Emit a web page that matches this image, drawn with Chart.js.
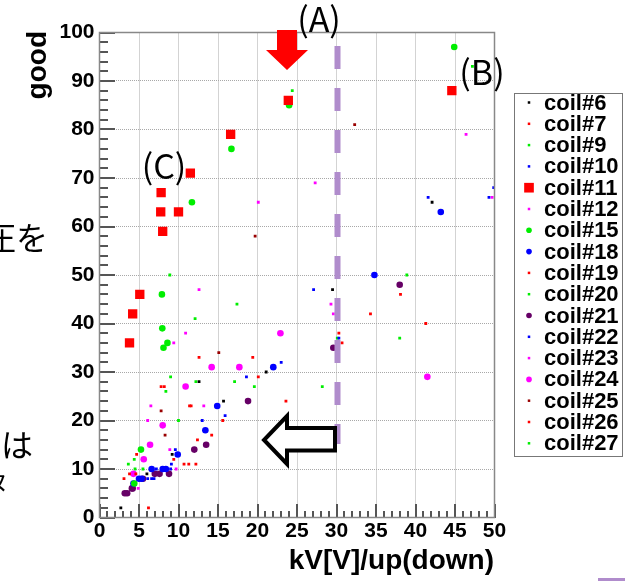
<!DOCTYPE html>
<html>
<head>
<meta charset="utf-8">
<script src="https://cdn.jsdelivr.net/npm/chart.js@4.4.1/dist/chart.umd.min.js"></script>
<style>
html,body{margin:0;padding:0;background:#fff;overflow:hidden}
#c{display:block}
</style>
</head>
<body>
<canvas id="c" width="625" height="581"></canvas>
<script>
// ---- axis / tick setup ----
const xMin = 0, xMax = 50, xStep = 5;
const yMin = 0, yMax = 100, yStep = 10;
const xTitle = 'kV[V]/up(down)';
const yTitle = 'good';

// ---- data per coil ----
const c6x  = [42.1, 29.5, 21.1, 12.6, 15.7, 9.2, 6.0, 2.7];
const c6y  = [65, 47, 30, 28, 24, 13, 9, 2];
const c7x  = [38.1, 30.3, 12.6, 7.8, 11.4, 15.6, 4.7, 10.7, 3.8];
const c7y  = [46, 38, 33, 27, 23, 20, 13, 11, 9];
const c9x  = [24.4, 38.9, 28.2, 9.0, 19.6, 4.4, 5.5];
const c9y  = [88, 50, 27, 29, 27, 12, 10];
const c10x = [41.6, 27.1, 23.0, 15.9, 9.6, 7.2, 6.1, 6.9];
const c10y = [66, 47, 32, 21, 14, 10, 8, 8];
const c11x = [23.9, 16.6, 11.5, 7.8, 7.75, 10.0, 8.0, 44.6, 5.1, 4.2, 3.8];
const c11y = [86, 79, 71, 67, 63, 63, 59, 88, 46, 42, 36];
const c12x = [20.1, 27.3, 29.3, 12.6, 9.4, 13.2, 8.9, 4.9];
const c12y = [65, 69, 44, 47, 36, 23, 14, 6];
const c15x = [24.0, 16.7, 11.7, 44.9, 7.9, 7.95, 8.6, 8.1, 5.25, 4.4];
const c15y = [85, 76, 65, 97, 46, 39, 36, 35, 14, 7];
const c18x = [43.2, 34.8, 22.0, 14.9, 13.4, 9.9, 6.6, 8.0, 8.4, 5.0, 5.35, 4.3];
const c18y = [63, 50, 31, 23, 18, 13, 10, 10, 10, 8, 8, 7];
const c19x = [34.3, 30.7, 19.4, 8.2, 23.6, 14.2, 9.4, 11.3, 4.6];
const c19y = [42, 36, 33, 27, 24, 17, 12, 11, 9];
const c20x = [8.9, 38.0, 17.4, 12.2, 8.4, 3.65];
const c20y = [50, 37, 44, 28, 26, 11];
const c21x = [38.0, 29.6, 18.8, 13.5, 12.0, 7.0, 7.6, 8.8, 5.5, 4.1, 4.2, 3.5, 3.2];
const c21y = [48, 35, 24, 15, 14, 9, 9, 9, 8, 6, 6, 5, 5];
const c22x = [49.9, 49.3, 30.3, 18.6, 13.0, 9.1, 9.0, 6.6];
const c22y = [68, 66, 37, 29, 20, 11, 10, 8];
const c23x = [46.4, 49.7, 29.6, 10.9, 6.5, 6.1, 9.7];
const c23y = [79, 66, 42, 38, 23, 20, 10];
const c24x = [41.5, 22.9, 14.2, 17.7, 10.9, 8.0, 6.4, 5.6, 4.3];
const c24y = [29, 38, 31, 31, 27, 19, 15, 12, 9];
const c25x = [19.7, 32.3, 15.1, 7.8, 8.3];
const c25y = [58, 81, 34, 22, 17];
const c26x = [41.3, 20.1, 11.6, 12.4, 12.2, 3.1, 6.2];
const c26y = [40, 29, 23, 16, 11, 8, 2];
const c27x = [47.2, 30.1, 12.1, 17.1, 10.0, 4.5];
const c27y = [93, 37, 41, 28, 20, 10];

const coilNames = ['coil#6','coil#7','coil#9','coil#10','coil#11','coil#12','coil#15','coil#18',
  'coil#19','coil#20','coil#21','coil#22','coil#23','coil#24','coil#25','coil#26','coil#27'];
const coilX = [c6x,c7x,c9x,c10x,c11x,c12x,c15x,c18x,c19x,c20x,c21x,c22x,c23x,c24x,c25x,c26x,c27x];
const coilY = [c6y,c7y,c9y,c10y,c11y,c12y,c15y,c18y,c19y,c20y,c21y,c22y,c23y,c24y,c25y,c26y,c27y];

// ---- styles ----
const RED='#ff0000', GRN='#00ee00', BLU='#0000ff', MAG='#ff00ff', PUR='#660066', DRD='#990000', BLK='#000000';
const coilColor = [BLK,RED,GRN,BLU,RED,MAG,GRN,BLU,RED,GRN,PUR,BLU,MAG,MAG,DRD,RED,GRN];
const coilKind  = ['t','t','t','t','sq','t','c','c','t','t','c','t','t','c','t','t','t'];
function styleOf(kind){
  if(kind==='sq') return {pointStyle:'rect', radius:6.6, legendR:5.8};
  if(kind==='c')  return {pointStyle:'circle', radius:3.3, legendR:2.8};
  return {pointStyle:'rect', radius:2.0, legendR:1.5};
}

const datasets = coilNames.map((n,i)=>{
  const st = styleOf(coilKind[i]);
  return {
    label:n,
    data: coilX[i].map((x,j)=>({x:x, y:coilY[i][j]})),
    pointStyle: st.pointStyle,
    pointRadius: st.radius,
    pointBackgroundColor: coilColor[i],
    pointBorderColor: coilColor[i],
    pointBorderWidth: 0,
    showLine:false
  };
});

const PURPLE = '#b08ccc';
const FONT = '"Liberation Sans", Arial, sans-serif';
const JFONT = '"Noto Sans CJK JP", sans-serif';

function drawAxesTicks(chart){
  const ctx = chart.ctx, a = chart.chartArea;
  const xs = chart.scales.x, ys = chart.scales.y;
  const L = Math.round(a.left), B = Math.round(a.bottom);
  ctx.save();
  ctx.fillStyle = '#555';
  for(let v=xMin; v<=xMax; v+=1){
    const px = Math.round(xs.getPixelForValue(v));
    const len = (v%5===0)?14:7;
    ctx.fillRect(px-1, B-len, 2, len);
  }
  for(let v=yMin; v<=yMax; v+=2){
    const py = Math.round(ys.getPixelForValue(v));
    const len = (v%10===0)?15:8;
    ctx.fillRect(L, py-1, len, 2);
  }
  ctx.strokeStyle = '#888';
  ctx.lineWidth = 1.5;
  ctx.strokeRect(a.left, a.top, a.right-a.left, a.bottom-a.top);
  ctx.restore();
}

const overlay = {
  id:'overlay',
  afterDatasetsDraw(chart){
    drawAxesTicks(chart);
    const ctx = chart.ctx, a = chart.chartArea;
    const xs = chart.scales.x, ys = chart.scales.y;
    ctx.save();
    // dashed purple line at x=30
    ctx.strokeStyle = PURPLE;
    ctx.lineWidth = 6;
    ctx.setLineDash([23,19]);
    ctx.beginPath();
    const lx = xs.getPixelForValue(30)+1;
    ctx.moveTo(lx, 46); ctx.lineTo(lx, 444);
    ctx.stroke();
    ctx.setLineDash([]);

    // red arrow (A)
    ctx.fillStyle = '#ff0000';
    ctx.beginPath();
    ctx.moveTo(277,30); ctx.lineTo(297,30); ctx.lineTo(297,50); ctx.lineTo(308,50);
    ctx.lineTo(287,70); ctx.lineTo(266,50); ctx.lineTo(277,50); ctx.closePath();
    ctx.fill();

    // hollow left arrow
    ctx.fillStyle = '#fff';
    ctx.strokeStyle = '#000';
    ctx.lineWidth = 4;
    ctx.lineJoin = 'miter';
    ctx.beginPath();
    ctx.moveTo(335,428); ctx.lineTo(287,428); ctx.lineTo(287,416); ctx.lineTo(264,440);
    ctx.lineTo(287,464); ctx.lineTo(287,450.5); ctx.lineTo(335,450.5); ctx.closePath();
    ctx.fill(); ctx.stroke();

    // labels (A)(B)(C)
    ctx.fillStyle = '#000';
    ctx.font = '34px ' + JFONT;
    ctx.textBaseline = 'middle';
    ctx.textAlign = 'center';
    ctx.fillText('(A)', 319, 19);
    ctx.fillText('(B)', 482, 72);
    ctx.fillText('(C)', 164, 166);
    ctx.textAlign = 'left';

    // Japanese slide text fragments
    ctx.font = '32px ' + JFONT;
    ctx.fillText('圧を', -16, 238);
    ctx.fillText('は', 1, 445);
    ctx.font = '24px ' + JFONT;
    ctx.fillText('ヌ', -15, 483);

    // axis titles
    ctx.font = 'bold 28px ' + FONT;
    ctx.textAlign = 'right';
    ctx.textBaseline = 'alphabetic';
    ctx.fillText(xTitle, 494, 569);
    ctx.save();
    ctx.translate(46, 31);
    ctx.rotate(-Math.PI/2);
    ctx.font = 'bold 28px ' + FONT;
    ctx.textAlign = 'right';
    ctx.fillText(yTitle, 0, 0);
    ctx.restore();

    // legend
    ctx.strokeStyle = '#777';
    ctx.lineWidth = 1;
    ctx.fillStyle = '#fff';
    ctx.fillRect(514.5, 93.5, 108, 363);
    ctx.strokeRect(514.5, 93.5, 108, 363);
    ctx.font = 'bold 22px ' + FONT;
    ctx.textAlign = 'left';
    ctx.textBaseline = 'middle';
    coilNames.forEach((n,i)=>{
      const y = 102.5 + i*21.3;
      const st = styleOf(coilKind[i]);
      ctx.fillStyle = coilColor[i];
      if(st.pointStyle==='rect'){
        const s = st.legendR;
        ctx.fillRect(529-s/1.2, y-s/1.2, 2*s/1.2, 2*s/1.2);
      } else {
        ctx.beginPath(); ctx.arc(529, y, st.legendR, 0, Math.PI*2); ctx.fill();
      }
      ctx.fillStyle = '#000';
      ctx.fillText(n, 544, y+1);
    });

    // purple slide decoration bottom right
    ctx.fillStyle = PURPLE;
    ctx.fillRect(598, 578, 27, 3);
    ctx.restore();
  }
};

new Chart(document.getElementById('c'), {
  type:'scatter',
  data:{datasets},
  options:{
    responsive:false,
    animation:false,
    devicePixelRatio:1,
    events:[],
    layout:{padding:{top:32.5, right:130.5, left:0, bottom:0}},
    plugins:{legend:{display:false}, tooltip:{enabled:false}},
    scales:{
      x:{
        type:'linear', min:xMin, max:xMax,
        ticks:{stepSize:xStep, color:'#000', padding:1, maxRotation:0, autoSkip:false,
          font:{family:FONT, weight:'bold', size:21}},
        grid:{color:'#a8a8a8', lineWidth:1, drawTicks:false},
        border:{display:false, dash:[1,1]},
        afterFit(s){ s.height = 63.5; }
      },
      y:{
        type:'linear', min:yMin, max:yMax,
        ticks:{stepSize:yStep, color:'#000', padding:5, autoSkip:false,
          font:{family:FONT, weight:'bold', size:21}},
        grid:{color:'#a8a8a8', lineWidth:1, drawTicks:false},
        border:{display:false, dash:[1,1]},
        afterFit(s){ s.width = 99.5; }
      }
    }
  },
  plugins:[overlay]
});
</script>
</body>
</html>
